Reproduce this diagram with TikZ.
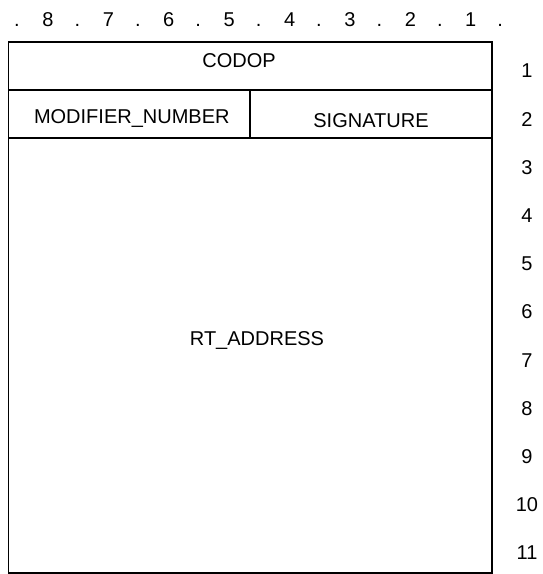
\documentclass[tikz,border=0pt]{standalone}
\usepackage{fontspec}
\setmainfont{Liberation Sans}
\begin{document}
\begin{tikzpicture}[x=1pt,y=-1pt,
  cell/.style={draw=black, line width=1.8pt, rectangle, inner sep=0pt, anchor=north west},
  lbl/.style={font=\fontsize{20}{24}\selectfont, inner sep=0pt, anchor=base, text=black}]
\useasboundingbox (0,0) rectangle (542,574);
% cells
\node[cell, minimum width=483.5pt, minimum height=48pt] (codopcell) at (7.5,41) {};
\node[cell, minimum width=241.5pt, minimum height=48pt] (modcell) at (7.5,89) {};
\node[cell, minimum width=242pt, minimum height=48pt] (sigcell) at (249,89) {};
\node[cell, minimum width=483.5pt, minimum height=435pt] (rtcell) at (7.5,137) {};
% labels
\node[lbl] (codop) at (239,67) {CODOP};
\node[lbl] (modnum) at (131.8,123) {MODIFIER\_NUMBER};
\node[lbl] (sig) at (371,127) {SIGNATURE};
\node[lbl] (rt) at (257,345) {RT\_ADDRESS};
% top ruler
\foreach \i in {0,...,8} {
  \node[lbl] (rdot\i) at ({17+60.4*\i},26) {.};
}
\foreach \k/\t in {0/8,1/7,2/6,3/5,4/4,5/3,6/2,7/1} {
  \node[lbl] (rnum\t) at ({48+60.4*\k},26) {\t};
}
% right numbers
\foreach \k in {1,...,11} {
  \node[lbl] (row\k) at (527,{77.8+48.2*(\k-1)}) {\k};
}
\end{tikzpicture}
\end{document}
